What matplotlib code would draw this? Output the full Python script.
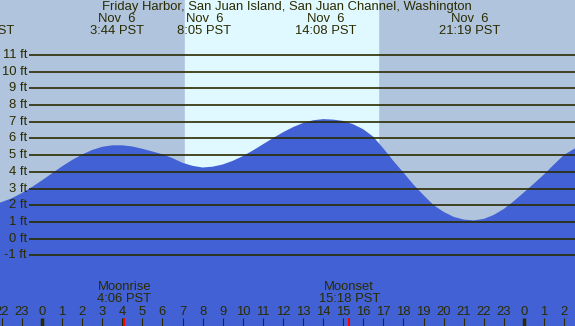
import matplotlib
matplotlib.use("Agg")
import matplotlib.pyplot as plt

# tide height (ft), every half hour (hours from midnight Nov 6)
hours = [-2.5, -2.0, -1.5, -1.0, -0.5, 0.0, 0.5, 1.0, 1.5, 2.0, 2.5, 3.0, 3.5, 4.0,
         4.5, 5.0, 5.5, 6.0, 6.5, 7.0, 7.5, 8.0, 8.5, 9.0, 9.5, 10.0, 10.5, 11.0,
         11.5, 12.0, 12.5, 13.0, 13.5, 14.0, 14.5, 15.0, 15.5, 16.0, 16.5, 17.0,
         17.5, 18.0, 18.5, 19.0, 19.5, 20.0, 20.5, 21.0, 21.5, 22.0, 22.5, 23.0,
         23.5, 24.0, 24.5, 25.0, 25.5, 26.0, 26.5, 27.0]
tide = [2.05, 2.19, 2.42, 2.73, 3.09, 3.49, 3.91, 4.33, 4.71, 5.04, 5.31, 5.50, 5.59, 5.59,
        5.52, 5.38, 5.22, 5.05, 4.82, 4.54, 4.36, 4.26, 4.31, 4.44, 4.66, 4.94, 5.28, 5.65,
        6.02, 6.37, 6.68, 6.93, 7.09, 7.16, 7.13, 7.05, 6.85, 6.55, 6.10, 5.40,
        4.65, 3.95, 3.23, 2.60, 2.00, 1.60, 1.30, 1.14, 1.09, 1.18, 1.42, 1.78,
        2.25, 2.77, 3.30, 3.85, 4.45, 5.02, 5.38, 5.75]

# high / low tide events shown at the top
event_hours = [-2.88, 3.73, 8.08, 14.13, 21.32]
event_dates = ["", "Nov  6", "Nov  6", "Nov  6", "Nov  6"]
event_times = ["21:07 PST", "3:44 PST", "8:05 PST", "14:08 PST", "21:19 PST"]

# moon events shown at the bottom
moon_hours = [4.1, 15.3]
moon_names = ["Moonrise", "Moonset"]
moon_times = ["4:06 PST", "15:18 PST"]

sunrise = 7.12
sunset = 16.73

levels = list(range(-1, 12))
tick_hours = list(range(-2, 27))
tick_labels = [str(h % 24) for h in tick_hours]

night = "#b0c4de"
day = "#e0f8ff"
water = "#4161d4"
ink = "#2b2b00"
fs = 9.4
font = "Liberation Sans"

fig = plt.figure(figsize=(5.75, 3.26), dpi=100)
ax = fig.add_axes([0, 0, 1, 1])
ax.set_xlim(-2.09, 26.54)
ax.set_ylim(-5.24, 14.3)
ax.axis("off")
ax.set_facecolor(night)
fig.patch.set_facecolor(night)

ax.axvspan(sunrise, sunset, color=day, zorder=0)
ax.fill_between(hours, tide, -10, color=water, lw=0, zorder=1)

ax.hlines(levels, -0.65, 30, color=ink, lw=1.2, zorder=2)
for lv in levels:
    ax.text(-0.75, lv, f"{lv} ft", ha="right", va="center", fontsize=fs,
            family=font, color=ink)

ax.text(12.2, 13.89, "Friday Harbor, San Juan Island, San Juan Channel, Washington",
        ha="center", va="center", fontsize=fs, family=font, color=ink)
for h, d, t in zip(event_hours, event_dates, event_times):
    ax.text(h, 13.14, d, ha="center", va="center", fontsize=fs, family=font, color=ink)
    ax.text(h, 12.42, t, ha="center", va="center", fontsize=fs, family=font, color=ink)

for h, n, t in zip(moon_hours, moon_names, moon_times):
    ax.text(h, -2.92, n, ha="center", va="center", fontsize=fs, family=font, color=ink)
    ax.text(h, -3.64, t, ha="center", va="center", fontsize=fs, family=font, color=ink)
    ax.vlines(h, -5.3, -4.76, color="red", lw=1.5, zorder=3)

for h, lab in zip(tick_hours, tick_labels):
    ax.text(h, -4.38, lab, ha="center", va="center", fontsize=fs, family=font, color=ink)
    thick = 2.5 if h % 24 == 0 else 0.8
    ax.vlines(h, -5.3, -4.76, color=ink, lw=thick, zorder=3)

fig.savefig("out.png", dpi=100, facecolor=night)
